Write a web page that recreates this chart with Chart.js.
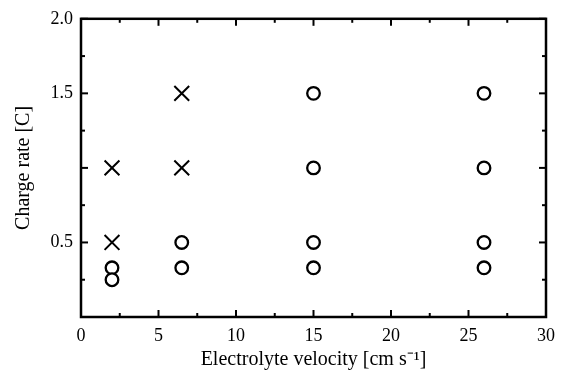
<!DOCTYPE html>
<html>
<head>
<meta charset="utf-8">
<script src="https://cdn.jsdelivr.net/npm/chart.js@4/dist/chart.umd.min.js"></script>
<style>
    body { margin: 0; background: #fff; }
    #caixa { width: 563px; height: 372px; }
</style>
</head>
<body>
<div id="caixa"><canvas id="grafico" width="563" height="372"></canvas></div>
<script>
// velocidade do eletrólito [cm s-1] e taxa de carga [C]
const velocidadeFalha = [2, 2, 6.5, 6.5];
const taxaFalha = [1.0, 0.5, 1.5, 1.0];
const velocidadeOk = [2, 2, 6.5, 6.5, 15, 15, 15, 15, 26, 26, 26, 26];
const taxaOk = [0.33, 0.25, 0.5, 0.33, 1.5, 1.0, 0.5, 0.33, 1.5, 1.0, 0.5, 0.33];
const ticksX = [0, 5, 10, 15, 20, 25, 30];
const ticksY = [0, 0.5, 1.0, 1.5, 2.0];
const rotulosYOcultos = [0, 1.0];

const fonte = '"Liberation Serif", "Times New Roman", serif';

// moldura e marcas de escala para dentro, nos quatro lados
const molduraPlugin = {
    id: 'moldura',
    afterDatasetsDraw(chart) {
        const { ctx, chartArea: a, scales } = chart;
        ctx.save();
        ctx.strokeStyle = '#000';
        ctx.lineWidth = 2;
        const marca = (x1, y1, x2, y2) => {
            ctx.beginPath();
            ctx.moveTo(x1, y1);
            ctx.lineTo(x2, y2);
            ctx.stroke();
        };
        for (let v = 0; v <= 30; v += 2.5) {
            const px = scales.x.getPixelForValue(v);
            const len = v % 5 === 0 ? 7 : 4;
            marca(px, a.bottom, px, a.bottom - len);
            marca(px, a.top, px, a.top + len);
        }
        for (let v = 0; v <= 2.0001; v += 0.25) {
            const py = scales.y.getPixelForValue(v);
            const len = Math.abs(v * 2 - Math.round(v * 2)) < 0.01 ? 7 : 4;
            marca(a.left, py, a.left + len, py);
            marca(a.right, py, a.right - len, py);
        }
        ctx.lineWidth = 2.5;
        ctx.strokeRect(a.left, a.top, a.right - a.left, a.bottom - a.top);
        ctx.restore();
    }
};

new Chart(document.getElementById('grafico').getContext('2d'), {
    type: 'scatter',
    data: {
        datasets: [
            {
                label: 'falha',
                data: velocidadeFalha.map((v, i) => ({ x: v, y: taxaFalha[i] })),
                pointStyle: 'crossRot',
                pointRadius: 10.5,
                borderColor: '#000',
                borderWidth: 2,
                backgroundColor: '#000'
            },
            {
                label: 'ok',
                data: velocidadeOk.map((v, i) => ({ x: v, y: taxaOk[i] })),
                pointStyle: 'circle',
                pointRadius: 6.3,
                borderColor: '#000',
                borderWidth: 2.3,
                backgroundColor: '#fff'
            }
        ]
    },
    options: {
        responsive: false,
        animation: false,
        layout: { padding: { top: 15, right: 15, left: 0, bottom: 0 } },
        plugins: { legend: { display: false }, tooltip: { enabled: false } },
        scales: {
            x: {
                type: 'linear',
                min: 0,
                max: 30,
                afterBuildTicks: scale => { scale.ticks = ticksX.map(v => ({ value: v })); },
                grid: { display: false, drawTicks: false },
                border: { display: false },
                ticks: { color: '#000', padding: 8, font: { family: fonte, size: 18 } },
                title: {
                    display: true,
                    text: 'Electrolyte velocity [cm s\u207B\u00B9]',
                    color: '#000',
                    font: { family: fonte, size: 20 },
                    padding: { top: 0, bottom: 0 }
                },
                afterFit: scale => { scale.height = 55; }
            },
            y: {
                type: 'linear',
                min: 0,
                max: 2.0,
                afterBuildTicks: scale => { scale.ticks = ticksY.map(v => ({ value: v })); },
                grid: { display: false, drawTicks: false },
                border: { display: false },
                ticks: {
                    color: '#000',
                    padding: 8,
                    font: { family: fonte, size: 18 },
                    callback: v => rotulosYOcultos.includes(v) ? '' : v.toFixed(1)
                },
                title: {
                    display: true,
                    text: 'Charge rate [C]',
                    color: '#000',
                    font: { family: fonte, size: 20 },
                    padding: { top: 12, bottom: 0 }
                },
                afterFit: scale => { scale.width = 81; }
            }
        }
    },
    plugins: [molduraPlugin]
});
</script>
</body>
</html>
